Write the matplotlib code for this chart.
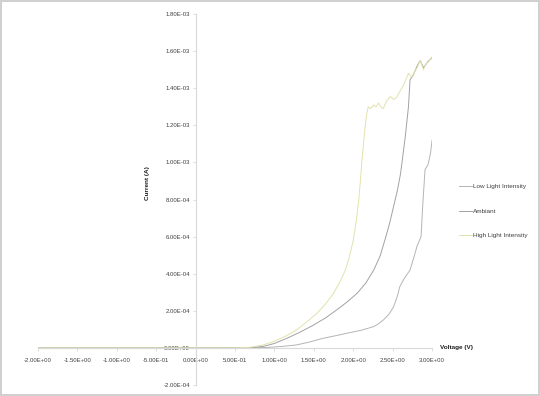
import matplotlib
matplotlib.use("Agg")
import matplotlib.pyplot as plt
from matplotlib.ticker import FuncFormatter, MultipleLocator

plt.rcParams['font.family'] = ['Liberation Sans', 'DejaVu Sans']

# Data (Voltage in V, Current in A)
low_v = [-2.0, -1.0, 0.0, 0.5, 0.9, 1.1, 1.28, 1.45, 1.62, 1.78, 1.92, 2.10, 2.26, 2.32, 2.38, 2.45,
         2.51, 2.56, 2.59, 2.64, 2.72, 2.77, 2.81, 2.86, 2.88, 2.91, 2.95, 2.98, 3.0]
low_i = [0.0, 0.0, 0.0, 0.0, 2e-6, 8e-6, 1.6e-5, 3.2e-5, 5.2e-5, 6.6e-5, 7.9e-5, 9.5e-5, 1.15e-4,
         1.3e-4, 1.5e-4, 1.8e-4, 2.2e-4, 2.8e-4, 3.3e-4, 3.7e-4, 4.2e-4, 4.9e-4, 5.5e-4, 6.0e-4,
         7.6e-4, 9.6e-4, 9.9e-4, 1.05e-3, 1.12e-3]

amb_v = [-2.0, -1.0, 0.0, 0.5, 0.7, 0.86, 1.0, 1.16, 1.33, 1.50, 1.65, 1.79, 1.92, 2.05, 2.16,
         2.26, 2.34, 2.40, 2.46, 2.51, 2.56, 2.60, 2.63, 2.66, 2.68, 2.70, 2.72, 2.76, 2.81, 2.85,
         2.89, 2.95, 3.0]
amb_i = [0.0, 0.0, 0.0, 0.0, 2e-6, 8e-6, 2.4e-5, 5.2e-5, 8.6e-5, 1.24e-4, 1.62e-4, 2.05e-4,
         2.47e-4, 2.95e-4, 3.5e-4, 4.2e-4, 4.95e-4, 5.8e-4, 6.7e-4, 7.6e-4, 8.5e-4, 9.4e-4,
         1.04e-3, 1.14e-3, 1.22e-3, 1.30e-3, 1.445e-3, 1.47e-3, 1.52e-3, 1.55e-3, 1.51e-3,
         1.545e-3, 1.565e-3]

high_v = [-2.0, -1.0, 0.0, 0.5, 0.69, 0.85, 0.99, 1.14, 1.28, 1.41, 1.54, 1.65, 1.75, 1.83, 1.90,
          1.95, 2.00, 2.04, 2.07, 2.09, 2.11, 2.13, 2.15, 2.17, 2.19, 2.22, 2.26, 2.29, 2.32, 2.35,
          2.38, 2.42, 2.47, 2.51, 2.55, 2.60, 2.64, 2.70, 2.74, 2.78, 2.81, 2.85, 2.89, 2.92, 2.95,
          3.0]
high_i = [0.0, 0.0, 0.0, 0.0, 3e-6, 1.5e-5, 3.4e-5, 6.3e-5, 9.7e-5, 1.4e-4, 1.87e-4, 2.38e-4,
          2.95e-4, 3.55e-4, 4.2e-4, 4.9e-4, 5.8e-4, 6.9e-4, 8.0e-4, 9.0e-4, 1.01e-3, 1.10e-3,
          1.19e-3, 1.26e-3, 1.30e-3, 1.29e-3, 1.31e-3, 1.30e-3, 1.32e-3, 1.30e-3, 1.29e-3,
          1.33e-3, 1.355e-3, 1.34e-3, 1.35e-3, 1.39e-3, 1.42e-3, 1.48e-3, 1.46e-3, 1.49e-3,
          1.51e-3, 1.55e-3, 1.50e-3, 1.53e-3, 1.54e-3, 1.57e-3]

series_names = ["Low Light Intensity", "Ambiant", "High Light Intensity"]
series_colors = ["#b4b4b4", "#a2a2a2", "#e2e2ae"]

fig = plt.figure(figsize=(5.4, 3.96), dpi=100)
fig.patch.set_edgecolor("#d0d0d0")
fig.patch.set_linewidth(1.5)
ax = fig.add_axes([0.0702, 0.0278, 0.8298 - 0.0702 - 0.0296, 0.9646 - 0.0278])

for v, i, name, c in zip([low_v, amb_v, high_v], [low_i, amb_i, high_i], series_names, series_colors):
    ax.plot(v, i, color=c, lw=0.7, label=name)

ax.set_xlim(-2.0, 3.0)
ax.set_ylim(-2e-4, 1.8e-3)
ax.xaxis.set_major_locator(MultipleLocator(0.5))
ax.yaxis.set_major_locator(MultipleLocator(2e-4))
fmt = FuncFormatter(lambda v, p: f"{v:.2E}")
ax.xaxis.set_major_formatter(fmt)
ax.yaxis.set_major_formatter(fmt)

ax.spines['left'].set_position(('data', 0))
ax.spines['bottom'].set_position(('data', 0))
ax.spines['right'].set_visible(False)
ax.spines['top'].set_visible(False)
for s in ('left', 'bottom'):
    ax.spines[s].set_color("#d9d9d9")
    ax.spines[s].set_linewidth(0.8)
ax.tick_params(axis='both', labelsize=4.3, labelcolor="#404040", color="#d9d9d9",
               length=2, width=0.6, direction='out')
ax.tick_params(axis='x', pad=5)
ax.tick_params(axis='y', pad=2)
ax.patch.set_alpha(0)

fig.text(440 / 540, 1 - 348 / 396, "Voltage (V)", fontsize=4.6, fontweight='bold',
         ha='left', va='center', color="#202020")
fig.text(148 / 540, 1 - 183 / 396, "Current (A)", fontsize=4.6, fontweight='bold',
         rotation=90, ha='center', va='center', color="#202020")

fig.legend(loc='upper left', bbox_to_anchor=(453 / 540, 1 - 178 / 396), frameon=False,
           fontsize=4.6, handlelength=2.0, handletextpad=0.3, labelspacing=3.0,
           labelcolor="#404040")

fig.savefig("out.png", dpi=100)
